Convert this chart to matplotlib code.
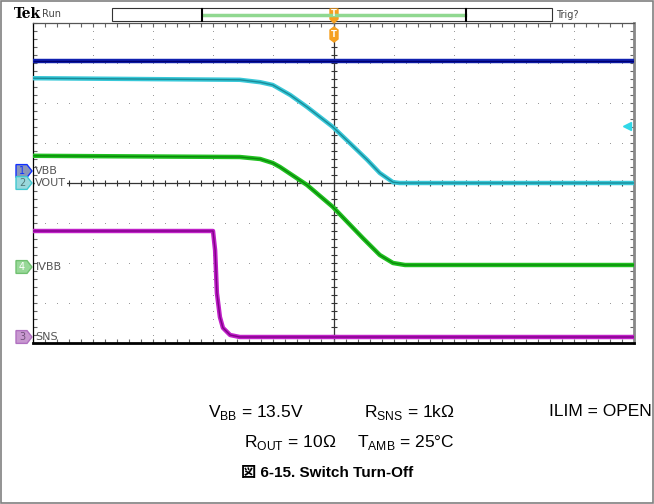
import numpy as np
import matplotlib
matplotlib.use("Agg")
import matplotlib.pyplot as plt
from matplotlib.patches import Rectangle, Polygon
import matplotlib.transforms as mtransforms

# ---------------- data (x in divisions 0..10, y in divisions 0..8) ----------------
vbb_t = [0.0, 10.0]
vbb_v = [7.05, 7.05]

vout_t = [0.0, 3.44, 3.78, 3.99, 4.28, 4.56, 4.99, 5.27, 5.56, 5.77, 5.99, 6.10, 10.0]
vout_v = [6.62, 6.58, 6.52, 6.45, 6.20, 5.90, 5.40, 5.00, 4.58, 4.25, 4.02, 4.00, 4.00]

ivbb_t = [0.0, 3.44, 3.78, 3.99, 4.11, 4.56, 4.99, 5.49, 5.77, 5.99, 6.19, 10.0]
ivbb_v = [4.68, 4.65, 4.60, 4.50, 4.40, 3.95, 3.40, 2.62, 2.20, 2.00, 1.95, 1.95]

sns_t = [0.0, 2.995, 3.03, 3.06, 3.11, 3.16, 3.28, 3.44, 10.0]
sns_v = [2.80, 2.80, 2.32, 1.25, 0.65, 0.38, 0.20, 0.15, 0.15]

channel_names = ["VBB", "VOUT", "IVBB", "SNS"]
channel_nums = ["1", "2", "4", "3"]
channel_levels = [4.30, 4.00, 1.90, 0.15]

cond_row1 = [r"V$_{\mathregular{BB}}$ = 13.5V", r"R$_{\mathregular{SNS}}$ = 1k$\Omega$", "ILIM = OPEN"]
cond_row2 = [r"R$_{\mathregular{OUT}}$ = 10$\Omega$", r"T$_{\mathregular{AMB}}$ = 25°C"]
title_text = "図 6-15. Switch Turn-Off"

# ---------------- figure ----------------
W, H = 654, 504
fig = plt.figure(figsize=(W / 100, H / 100), dpi=100)
plt.rcParams['mathtext.fontset'] = 'custom'
plt.rcParams['mathtext.rm'] = 'Liberation Sans'

def fx(px):
    return px / W

def fy(py):
    return 1 - py / H

ax = fig.add_axes([fx(33), fy(343), 601 / W, 320 / H])
ax.set_xlim(0, 10)
ax.set_ylim(0, 8)

# grid dots
gcol = "#9a9a9a"
minor = np.arange(0, 10.001, 0.2)
minor_y = np.arange(0, 8.001, 0.2)
for k in range(1, 10):
    if k == 5:
        continue
    ax.plot(np.full_like(minor_y, k), minor_y, ls="none", marker="s", ms=0.7, mew=0, color=gcol, zorder=1)
for k in range(1, 8):
    if k == 4:
        continue
    ax.plot(minor, np.full_like(minor, k), ls="none", marker="s", ms=0.7, mew=0, color=gcol, zorder=1)

# center crosshair
ax.axhline(4, color="#333333", lw=0.9, zorder=1)
ax.axvline(5, color="#333333", lw=0.9, zorder=1)
ax.plot(minor, np.full_like(minor, 4), ls="none", marker="|", ms=5, mew=0.8, color="#333333", zorder=1)
ax.plot(np.full_like(minor_y, 5), minor_y, ls="none", marker="_", ms=5, mew=0.8, color="#333333", zorder=1)

# axis ticks on edges
ax.set_xticks(np.arange(0, 10.001, 1))
ax.set_yticks(np.arange(0, 8.001, 1))
ax.set_xticks(minor, minor=True)
ax.set_yticks(minor_y, minor=True)
ax.tick_params(which="both", direction="in", length=3, width=0.8, color="#666666",
               top=True, right=True, labelbottom=False, labelleft=False)
for s in ax.spines.values():
    s.set_color("#555555")
    s.set_linewidth(0.9)
ax.spines["bottom"].set_color("black")
ax.spines["bottom"].set_linewidth(2)
ax.spines["left"].set_color("black")
ax.spines["right"].set_color("#888888")
ax.spines["right"].set_linewidth(2)

# traces
def trace(t, v, outer, inner, z):
    ax.plot(t, v, color=outer, lw=3.2, solid_capstyle="butt", zorder=z)
    ax.plot(t, v, color=inner, lw=1.0, solid_capstyle="butt", zorder=z + 0.1)

trace(vbb_t, vbb_v, "#1020b0", "#000070", 3)
trace(vout_t, vout_v, "#38c8d8", "#1a8a98", 3)
trace(ivbb_t, ivbb_v, "#20c020", "#0a8a0a", 3)
trace(sns_t, sns_v, "#c020c8", "#800088", 3)

# trace labels
for name, lvl in zip(channel_names, channel_levels):
    bb = dict(facecolor="white", edgecolor="none", pad=0.5) if name == "VOUT" else None
    ax.text(0.04, lvl, name, fontsize=8, color="#555555", va="center", ha="left",
            family="DejaVu Sans", bbox=bb, zorder=4)

# channel markers
trans = mtransforms.blended_transform_factory(fig.transFigure, ax.transData)
mk_face = ["#8a96b8", "#9ad8dc", "#98d898", "#c898d0"]
mk_edge = ["#1030ff", "#40c8d0", "#70c070", "#b070c0"]
mk_txt = ["#1030ff", "#507878", "white", "#705078"]
for num, lvl, fc, ec, tc in zip(channel_nums, channel_levels, mk_face, mk_edge, mk_txt):
    x0, x1, x2 = fx(16), fx(27), fx(32)
    h = 0.16
    poly = Polygon([(x0, lvl - h), (x1, lvl - h), (x2, lvl), (x1, lvl + h), (x0, lvl + h)],
                   closed=True, transform=trans, facecolor=fc, edgecolor=ec, lw=1.0,
                   clip_on=False, zorder=5)
    ax.add_patch(poly)
    ax.text(fx(22), lvl, num, transform=trans, fontsize=7, color=tc, ha="center", va="center",
            family="DejaVu Sans", zorder=6, clip_on=False)

# cyan trigger level arrow at right
ax.plot([9.88], [5.43], marker="<", ms=6, color="#30d8e8", ls="none", zorder=5, clip_on=False)

# ---------------- header ----------------
fig.text(fx(14), fy(14), "Tek", fontsize=10, fontweight="bold", family="DejaVu Serif",
         ha="left", va="center")
fig.text(fx(42), fy(14), "Run", fontsize=7, color="#444444", family="DejaVu Sans",
         ha="left", va="center")
fig.patches.append(Rectangle((fx(112), fy(21)), 440 / W, 13 / H, transform=fig.transFigure,
                             facecolor="white", edgecolor="#333333", lw=0.8))
fig.lines.append(plt.Line2D([fx(203), fx(465)], [fy(15), fy(15)], transform=fig.transFigure,
                            color="#90d890", lw=2.5))
for bx in (202, 466):
    fig.lines.append(plt.Line2D([fx(bx), fx(bx)], [fy(9), fy(21)], transform=fig.transFigure,
                                color="black", lw=1.5))
fig.text(fx(556), fy(15), "Trig?", fontsize=7, color="#444444", family="DejaVu Sans",
         ha="left", va="center")

orange = "#f5a020"
fig.patches.append(Polygon([(fx(330), fy(9)), (fx(338), fy(9)), (fx(338), fy(19)), (fx(334), fy(23)),
                            (fx(330), fy(19))], closed=True, transform=fig.transFigure,
                           facecolor=orange, edgecolor=orange))
fig.text(fx(334), fy(14), "T", fontsize=6, color="white", ha="center", va="center",
         family="DejaVu Sans", fontweight="bold")
fig.patches.append(Polygon([(fx(334), fy(27)), (fx(338), fy(30)), (fx(338), fy(39)), (fx(334), fy(42)),
                            (fx(330), fy(39)), (fx(330), fy(30))], closed=True, transform=fig.transFigure,
                           facecolor=orange, edgecolor=orange, zorder=10))
fig.text(fx(334), fy(34.5), "T", fontsize=6, color="white", ha="center", va="center",
         family="DejaVu Sans", fontweight="bold", zorder=11)

# ---------------- condition text ----------------
tfont = dict(fontsize=12.5, family="Liberation Sans", color="black")
fig.text(fx(208), fy(412), cond_row1[0], ha="left", va="center", **tfont)
fig.text(fx(455), fy(412), cond_row1[1], ha="right", va="center", **tfont)
fig.text(fx(652), fy(412), cond_row1[2], ha="right", va="center", **tfont)
fig.text(fx(244), fy(442), cond_row2[0], ha="left", va="center", **tfont)
fig.text(fx(455), fy(442), cond_row2[1], ha="right", va="center", **tfont)
fig.text(fx(327), fy(473), title_text, ha="center", va="center", fontsize=11, fontweight="bold",
         family=["Liberation Sans", "Noto Sans CJK JP"])

# figure border
fig.patches.append(Rectangle((0.002, 0.002), 0.996, 0.996, transform=fig.transFigure,
                             facecolor="none", edgecolor="#808080", lw=1.2))

fig.savefig("out.png", dpi=100)
